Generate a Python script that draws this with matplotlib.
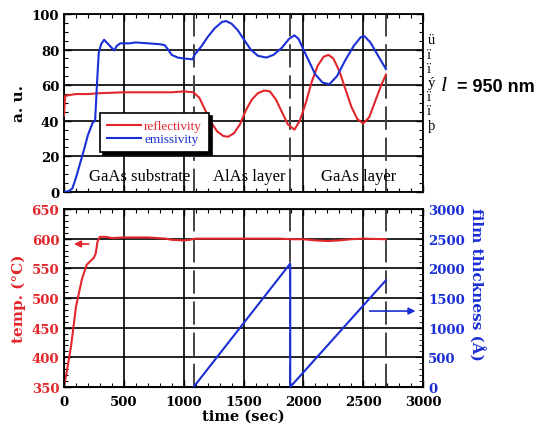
import matplotlib
matplotlib.use('Agg')
import matplotlib.pyplot as plt
from matplotlib.ticker import MultipleLocator

# emissivity / reflectivity (a. u.) vs time (sec)
t_refl = [0, 10, 50, 100, 200, 300, 500, 700, 900, 1000, 1080, 1130, 1180, 1230, 1280,
          1330, 1370, 1420, 1470, 1520, 1570, 1620, 1675, 1720, 1770, 1820, 1870, 1925,
          1970, 2020, 2070, 2120, 2170, 2210, 2250, 2300, 2350, 2400, 2450, 2500, 2550,
          2600, 2650, 2690]
refl = [43, 54, 54.5, 55, 55, 55.5, 56, 56, 56, 56.5, 56, 53, 46, 39, 34,
        31.5, 31, 33, 38, 46, 52, 55.5, 57, 56.5, 52, 45, 38, 35,
        40, 50, 62, 71, 76, 77, 75, 68, 58, 48, 41, 38.5, 42,
        51, 60, 66]

t_emis = [0, 40, 70, 100, 130, 160, 200, 240, 260, 275, 290, 310, 335, 370, 420, 440,
          470, 550, 600, 700, 800, 840, 870, 900, 950, 1000, 1075, 1090, 1150, 1200,
          1260, 1320, 1355, 1400, 1450, 1500, 1560, 1620, 1690, 1750, 1820, 1880, 1925,
          1960, 2000, 2050, 2100, 2160, 2217, 2280, 2350, 2420, 2480, 2510, 2560, 2620,
          2690]
emis = [0, 0.5, 2, 8, 15, 22, 32, 39, 40, 60, 78, 83, 85.5, 83, 79.5, 82,
        83.5, 83.5, 84, 83.5, 83, 82.5, 80, 77, 75.5, 75, 74.5, 77, 82, 87,
        92, 95.5, 96, 94.5, 91, 86, 80, 76.5, 75.5, 77, 81, 86, 88,
        86, 80, 73, 66, 61.5, 60.5, 65, 74, 82, 87, 87.5, 84, 77,
        69]

# temperature (C) and film thickness (A)
t_temp = [0, 20, 60, 100, 150, 190, 250, 265, 280, 300, 350, 400, 500, 700, 850, 900,
          1000, 1050, 1100, 1500, 1800, 1900, 2000, 2100, 2200, 2300, 2400, 2500, 2690]
temp = [352, 372, 420, 485, 532, 556, 568, 575, 595, 603, 603, 601, 602, 602, 600, 598,
        597, 598, 600, 600, 600, 599, 599, 597, 596, 597, 599, 600, 599]

t_thick = [1083, 1890, 1890, 2690]
thick = [0, 2080, 0, 1800]

layer_edges = [1083, 1890, 2690]
layer_names = ['GaAs substrate', 'AlAs layer', 'GaAs layer']
layer_pos = [630, 1550, 2460]

RED = '#e3262b'
BLUE = '#1a2fd6'
serif = 'DejaVu Serif'

fig = plt.figure(figsize=(5.4, 4.27), dpi=100)
ax1 = fig.add_axes([0.1185, 0.548, 0.665, 0.417])
ax2 = fig.add_axes([0.1185, 0.0913, 0.665, 0.417])

def style(ax):
    ax.set_xlim(0, 3000)
    ax.xaxis.set_major_locator(MultipleLocator(500))
    ax.xaxis.set_minor_locator(MultipleLocator(100))
    ax.tick_params(which='both', direction='in', top=True, right=True)
    ax.tick_params(which='major', length=5, width=1)
    ax.tick_params(which='minor', length=3, width=0.8)
    ax.tick_params(axis='x', pad=6)
    ax.grid(True, which='major', color='black', linewidth=1.2)
    for s in ax.spines.values():
        s.set_linewidth(1.3)
    for x in layer_edges:
        ax.axvline(x, color='#444444', linewidth=1.4, dashes=(12, 4), zorder=2)
    for lab in ax.get_xticklabels() + ax.get_yticklabels():
        lab.set_fontfamily(serif)
        lab.set_fontweight('bold')
        lab.set_fontsize(9.5)

# --- top panel
ax1.plot(t_refl, refl, color=RED, lw=1.5, label='reflectivity', zorder=3)
ax1.plot(t_emis, emis, color=BLUE, lw=1.5, label='emissivity', zorder=3)
ax1.set_ylim(0, 100)
ax1.yaxis.set_major_locator(MultipleLocator(20))
ax1.yaxis.set_minor_locator(MultipleLocator(5))
ax1.set_xticklabels([])
style(ax1)
ax1.set_ylabel('a. u.', fontfamily=serif, fontweight='bold', fontsize=11, labelpad=4)
for name, x in zip(layer_names, layer_pos):
    ax1.text(x, 9, name, ha='center', va='center', fontfamily='Liberation Serif',
             fontsize=12, zorder=4)
leg = ax1.legend(loc='upper left', bbox_to_anchor=(0.1, 0.445), frameon=True,
                 fancybox=False, shadow={'color': 'black', 'alpha': 1},
                 handlelength=2.6, handletextpad=0.2, borderaxespad=0,
                 borderpad=0.55, labelspacing=0.05,
                 prop={'family': 'Liberation Serif', 'size': 9.5})
leg.get_frame().set_edgecolor('black')
leg.get_frame().set_linewidth(1.2)
leg.set_zorder(5)
for txt, c in zip(leg.get_texts(), [RED, BLUE]):
    txt.set_color(c)

# brace (symbol font pieces) and wavelength
ax1.text(1.012, 0.615, 'ü\nï\nï\ný\nï\nï\nþ', transform=ax1.transAxes,
         ha='left', va='center', fontfamily='Liberation Serif', fontsize=10.5,
         linespacing=1.12)
ax1.text(1.05, 0.6, 'l', transform=ax1.transAxes, ha='left', va='center',
         fontfamily='Liberation Serif', fontstyle='italic', fontsize=16)
ax1.text(1.095, 0.595, '= 950 nm', transform=ax1.transAxes, ha='left', va='center',
         fontfamily='Liberation Sans', fontweight='bold', fontsize=13)

# --- bottom panel
ax2.plot(t_temp, temp, color=RED, lw=1.5, zorder=3)
ax2.set_ylim(350, 650)
ax2.yaxis.set_major_locator(MultipleLocator(50))
ax2.yaxis.set_minor_locator(MultipleLocator(10))
style(ax2)
for lab in ax2.get_yticklabels():
    lab.set_color(RED)
ax2.set_ylabel('temp. (°C)', color=RED, fontfamily=serif, fontweight='bold',
               fontsize=11, labelpad=4)
ax2.set_xlabel('time (sec)', fontfamily=serif, fontweight='bold', fontsize=10.5,
               labelpad=0)
ax2.annotate('', xy=(60, 591), xytext=(230, 591),
             arrowprops=dict(arrowstyle='-|>', color=RED, lw=1.2, mutation_scale=10))

ax3 = ax2.twinx()
ax3.plot(t_thick, thick, color=BLUE, lw=1.5, zorder=3)
ax3.set_ylim(0, 3000)
ax3.yaxis.set_major_locator(MultipleLocator(500))
ax3.yaxis.set_minor_locator(MultipleLocator(100))
ax3.tick_params(which='both', direction='in')
ax3.tick_params(which='major', length=5)
ax3.tick_params(which='minor', length=3)
for lab in ax3.get_yticklabels():
    lab.set_fontfamily(serif)
    lab.set_fontweight('bold')
    lab.set_fontsize(9.5)
    lab.set_color(BLUE)
ax3.set_ylabel('film thickness (Å)', color=BLUE, fontfamily=serif, fontweight='bold',
               fontsize=11, rotation=270, va='bottom')
ax3.yaxis.set_label_coords(1.125, 0.58)
ax3.annotate('', xy=(2960, 1280), xytext=(2530, 1280),
             arrowprops=dict(arrowstyle='-|>', color=BLUE, lw=1.2, mutation_scale=10))

fig.savefig('out.png', dpi=100)
